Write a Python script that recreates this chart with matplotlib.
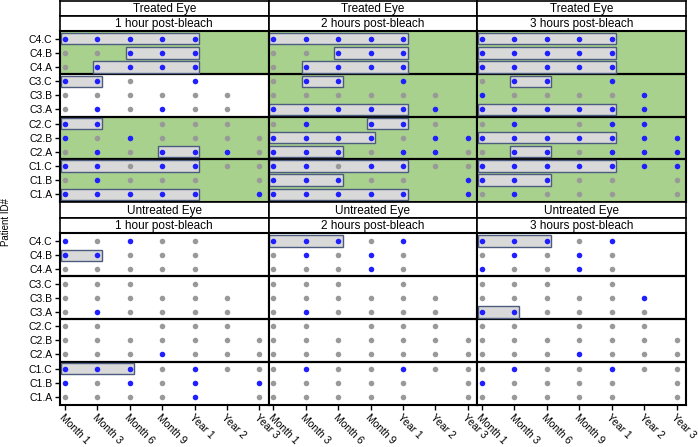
import numpy as np
import matplotlib.pyplot as plt
from matplotlib.patches import Rectangle

plt.rcParams['font.family'] = ['Liberation Sans', 'DejaVu Sans']

# rows from top (C4.C) to bottom (C1.A), as they appear on the chart
patients = ['C4.C', 'C4.B', 'C4.A', 'C3.C', 'C3.B', 'C3.A',
            'C2.C', 'C2.B', 'C2.A', 'C1.C', 'C1.B', 'C1.A']
timepoints = ['Month 1', 'Month 3', 'Month 6', 'Month 9', 'Year 1', 'Year 2', 'Year 3']
eyes = ['Treated Eye', 'Untreated Eye']
delays = ['1 hour post-bleach', '2 hours post-bleach', '3 hours post-bleach']

# B = blue dot, G = gray dot, . = no visit
treated_1h = ["BBBBB..", "GGBBB..", "GBBBB..", "BBG.B..", "GGGGGG.", "GBGBGG.",
              "BB.GGG.", "BGBGGGG", "GBGBBBG", "BBGBBGG", "GBGGG.G", "BBBBB.B"]
treated_2h = ["BBBBB..", "GGBBB..", "GBBBB..", "GBB.B..", "GGGGGG.", "BBBBBB.",
              "GB.BBG.", "BBBBGBB", "BBBGBBG", "BBGBBGG", "BBBGG.B", "BBBBB.B"]
treated_3h = ["BBBBB..", "BBBBB..", "BBBBB..", "GBB.B..", "BGGGGB.", "BBBBBB.",
              "GB.GBB.", "BBBBBBB", "GBBGBBB", "BBBBBBB", "BBBGG.G", "GBGGG.G"]
untreated_1h = ["BGBGG..", "BBGGG..", "GGGGG..", "GGG.G..", "GGGGGG.", "GBGGGG.",
                "GG.GGG.", "GGGGGGG", "GGGBGGG", "BBBGBGG", "BGBGB.B", "GGGGB.G"]
untreated_2h = ["BBBGB..", "GBGBG..", "GGGBG..", "GGG.G..", "GGGGGG.", "GBGGGG.",
                "GG.GGG.", "GGGGGGG", "GGGGGGG", "GBGGBGG", "GGGGG.G", "GGGGG.G"]
untreated_3h = ["BBBGB..", "GBGBG..", "BGGBG..", "GGG.G..", "GGGGGB.", "BBGGGG.",
                "GG.GGG.", "GGGGGGG", "GGGBGGG", "GBGGBGG", "BGGGG.G", "GGGGG.G"]

# (patient, first timepoint index, last timepoint index) of the highlighted runs
treated_1h_boxes = [('C4.C', 0, 4), ('C4.B', 2, 4), ('C4.A', 1, 4), ('C3.C', 0, 1),
                    ('C2.C', 0, 1), ('C2.A', 3, 4), ('C1.C', 0, 4), ('C1.A', 0, 4)]
treated_2h_boxes = [('C4.C', 0, 4), ('C4.B', 2, 4), ('C4.A', 1, 4), ('C3.C', 1, 2),
                    ('C3.A', 0, 4), ('C2.C', 3, 4), ('C2.B', 0, 3), ('C2.A', 0, 2),
                    ('C1.C', 0, 4), ('C1.B', 0, 2), ('C1.A', 0, 4)]
treated_3h_boxes = [('C4.C', 0, 4), ('C4.B', 0, 4), ('C4.A', 0, 4), ('C3.C', 1, 2),
                    ('C3.A', 0, 4), ('C2.B', 0, 4), ('C2.A', 1, 2), ('C1.C', 0, 4),
                    ('C1.B', 0, 2)]
untreated_1h_boxes = [('C4.B', 0, 1), ('C1.C', 0, 2)]
untreated_2h_boxes = [('C4.C', 0, 2)]
untreated_3h_boxes = [('C4.C', 0, 2), ('C3.A', 0, 1)]

# patient groups shaded green
treated_1h_green = ['C4', 'C2', 'C1']
treated_2h_green = ['C4', 'C3', 'C2', 'C1']
treated_3h_green = ['C4', 'C3', 'C2', 'C1']
untreated_green = []

grids = [[treated_1h, treated_2h, treated_3h], [untreated_1h, untreated_2h, untreated_3h]]
boxes = [[treated_1h_boxes, treated_2h_boxes, treated_3h_boxes],
         [untreated_1h_boxes, untreated_2h_boxes, untreated_3h_boxes]]
greens = [[treated_1h_green, treated_2h_green, treated_3h_green],
          [untreated_green, untreated_green, untreated_green]]

W, H = 698, 447
fig = plt.figure(figsize=(W / 100, H / 100), dpi=100)

def px_axes(x0, y0, x1, y1):
    ''' axes placed by pixel corners (top-left origin) '''
    return fig.add_axes([x0 / W, 1 - y1 / H, (x1 - x0) / W, (y1 - y0) / H])

col_edges = [60, 268.5, 477, 686]
row_tops = [0.5, 202.3]     # top of the eye strip
panel_tops = [30.7, 233]
panel_bots = [202.3, 405]

ypos = {p: len(patients) - 1 - i for i, p in enumerate(patients)}
group_lo = {'C1': -0.57, 'C2': 2.5, 'C3': 5.5, 'C4': 8.5}
group_hi = {'C1': 2.5, 'C2': 5.5, 'C3': 8.5, 'C4': 11.57}

for r in range(2):
    for c in range(3):
        x0, x1 = col_edges[c], col_edges[c + 1]
        # the two strips on top
        mid = (row_tops[r] + panel_tops[r]) / 2
        for (a, b), label in [((row_tops[r], mid), eyes[r]), ((mid, panel_tops[r]), delays[c])]:
            sax = px_axes(x0, a, x1, b)
            sax.set_xticks([])
            sax.set_yticks([])
            for s in sax.spines.values():
                s.set_linewidth(1.2)
            sax.text(0.5, 0.45, label, ha='center', va='center', fontsize=8.5,
                     transform=sax.transAxes)

        ax = px_axes(x0, panel_tops[r], x1, panel_bots[r])
        ax.set_xlim(-0.15, 6.28)
        ax.set_ylim(-0.57, 11.57)
        for s in ax.spines.values():
            s.set_linewidth(1.5)

        for g in greens[r][c]:
            ax.axhspan(group_lo[g], group_hi[g], color='#A9D18E', zorder=0, lw=0)
        for yb in [2.5, 5.5, 8.5]:
            ax.axhline(yb, color='black', lw=1.6, zorder=1)

        for (p, a, b) in boxes[r][c]:
            ax.add_patch(Rectangle((a - 0.12, ypos[p] - 0.4), b - a + 0.26, 0.8,
                                   facecolor='#D9D9D9', edgecolor='#4B5C7E', lw=1.0, zorder=2))

        grid = grids[r][c]
        for i, p in enumerate(patients):
            for j, v in enumerate(grid[i]):
                if v == '.':
                    continue
                col = '#1F1FFF' if v == 'B' else '#999999'
                ax.scatter(j, ypos[p], s=16, color=col, lw=0, zorder=3)

        ax.set_xticks(range(len(timepoints)))
        ax.set_yticks([ypos[p] for p in patients])
        ax.tick_params(length=3.5, width=1, labelsize=7.5, pad=2)
        if c == 0:
            ax.set_yticklabels(patients)
        else:
            ax.tick_params(axis='y', left=False, labelleft=False)
        if r == 1:
            ax.set_xticklabels(timepoints, rotation=-45, ha='left', va='top',
                               rotation_mode='anchor')
        else:
            ax.tick_params(axis='x', bottom=False, labelbottom=False)

fig.text(0.009, 1 - 222 / H, 'Patient ID#', rotation=90, ha='center', va='center', fontsize=7)

fig.savefig('out.png', dpi=100)
